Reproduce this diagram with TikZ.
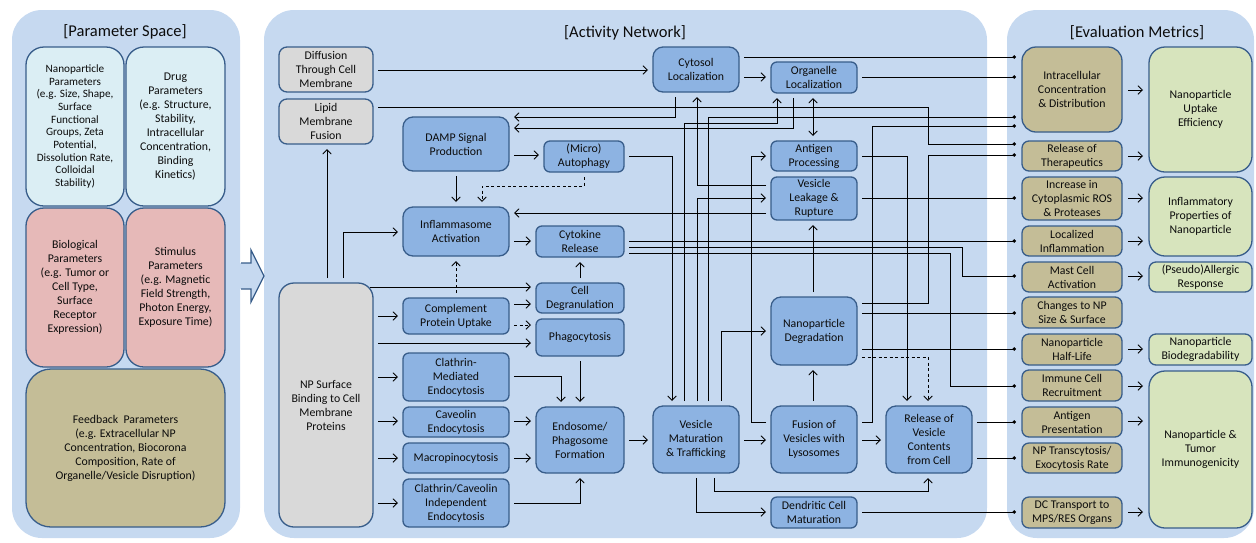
\documentclass[tikz,border=0pt]{standalone}
\usepackage{fontspec}
\setmainfont{Carlito}
\usetikzlibrary{arrows.meta,calc}
\definecolor{panel}{RGB}{198,217,240}
\definecolor{mid}{RGB}{141,179,226}
\definecolor{bord}{RGB}{56,93,138}
\definecolor{grayb}{RGB}{217,217,217}
\definecolor{cyanb}{RGB}{219,238,244}
\definecolor{pinkb}{RGB}{230,185,184}
\definecolor{tanb}{RGB}{196,189,151}
\definecolor{greenb}{RGB}{215,228,189}
\definecolor{txt}{RGB}{12,12,12}
\newcommand\bx[7]{\node[#1,minimum width={(#5)-(#3)},minimum height={(#6)-(#4)}] (#2) at ({((#3)+(#5))/2},{((#4)+(#6))/2}) {#7};}
\begin{document}
\begin{tikzpicture}[x=1pt,y=-1pt,
  base/.style={draw=bord,line width=1.3pt,align=center,inner sep=1pt,text=txt,font=\fontsize{11.8}{14}\selectfont},
  mb/.style={base,fill=mid,rounded corners=6pt,outer sep=5pt},
  mbig/.style={mb,rounded corners=10pt},
  gb/.style={base,fill=grayb,rounded corners=8pt,outer sep=5pt},
  gbig/.style={gb,rounded corners=15pt},
  tb/.style={base,fill=tanb,rounded corners=7pt,outer sep=6pt},
  tbig/.style={tb,rounded corners=14pt},
  grs/.style={base,fill=greenb,rounded corners=7pt,outer sep=6pt},
  grn/.style={grs,rounded corners=16pt},
  lb/.style={base,rounded corners=18pt},
  title/.style={font=\fontsize{16.5}{18}\selectfont,text=txt},
  ln/.style={draw=black,line width=0.85pt},
  ar/.style={ln,-{Straight Barb[length=4.5pt,width=8.5pt]}},
  bi/.style={ln,{Straight Barb[length=4.5pt,width=8.5pt]}-{Straight Barb[length=4.5pt,width=8.5pt]}},
  dar/.style={ar,dash pattern=on 3pt off 2.5pt},
  dt/.style={ln,-{Circle[length=3.5pt]}}]
\useasboundingbox (0,0) rectangle (1256,542);
% panels
\fill[panel,rounded corners=30pt] (12,10) rectangle (240,538);
\fill[panel,rounded corners=30pt] (264,10) rectangle (987,538);
\fill[panel,rounded corners=30pt] (1007,10) rectangle (1254,538);
\node[title] (t1) at (125,32) {[Parameter Space]};
\node[title] (t2) at (625,33) {[Activity Network]};
\node[title] (t3) at (1137,33) {[Evaluation Metrics]};
% block arrow
\fill[panel] (240,263) -- (251,263) -- (251,250) -- (264,276) -- (251,302) -- (251,289) -- (240,289) -- cycle;
\draw[bord,line width=1.2pt,line join=miter] (241,263) -- (251,263) -- (251,250) -- (264,276) -- (251,302) -- (251,289) -- (241,289);
% left boxes
\bx{lb,fill=cyanb,font=\fontsize{11.2}{12.7}\selectfont}{npp}{26}{47}{124}{206}{Nanoparticle\\Parameters\\(e.g. Size, Shape,\\Surface\\Functional\\Groups, Zeta\\Potential,\\Dissolution Rate,\\Colloidal\\Stability)}
\bx{lb,fill=cyanb}{drug}{126}{47}{225}{206}{Drug\\Parameters\\(e.g. Structure,\\Stability,\\Intracellular\\Concentration,\\Binding\\Kinetics)}
\bx{lb,fill=pinkb}{bio}{26}{208}{124}{367}{Biological\\Parameters\\(e.g. Tumor or\\Cell Type,\\Surface\\Receptor\\Expression)}
\bx{lb,fill=pinkb}{stim}{126}{208}{225}{367}{Stimulus\\Parameters\\(e.g. Magnetic\\Field Strength,\\Photon Energy,\\Exposure Time)}
\bx{lb,fill=tanb,rounded corners=25pt}{fb}{26}{369}{225}{527}{Feedback~ Parameters\\(e.g. Extracellular NP\\Concentration, Biocorona\\Composition, Rate of\\Organelle/Vesicle Disruption)}
% middle boxes
\bx{gb}{diff}{279}{47}{373}{92}{Diffusion\\Through Cell\\Membrane}
\bx{gb}{lipid}{279}{99}{373}{144}{Lipid\\Membrane\\Fusion}
\bx{gbig}{nps}{279}{283}{373}{527}{NP Surface\\Binding to Cell\\Membrane\\Proteins}
\bx{mbig}{damp}{403}{117}{509}{171}{DAMP Signal\\Production}
\bx{mb}{auto}{544}{141}{624}{172}{(Micro)\\Autophagy}
\bx{mbig}{cyt}{653}{47}{739}{92}{Cytosol\\Localization}
\bx{mb}{org}{771}{62}{857}{93}{Organelle\\Localization}
\bx{mb}{ap}{771}{141}{857}{171}{Antigen\\Processing}
\bx{mb}{vlr}{771}{177}{857}{220}{Vesicle\\Leakage \&\\Rupture}
\bx{mbig}{infl}{403}{207}{509}{256}{Inflammasome\\Activation}
\bx{mb}{cyto}{536}{226}{624}{257}{Cytokine\\Release}
\bx{mb}{cdeg}{536}{283}{624}{313}{Cell\\Degranulation}
\bx{mb}{comp}{403}{298}{509}{334}{Complement\\Protein Uptake}
\bx{mb}{phag}{536}{319}{624}{356}{Phagocytosis}
\bx{mb}{clm}{403}{353}{509}{401}{Clathrin-\\Mediated\\Endocytosis}
\bx{mb}{cav}{403}{407}{509}{437}{Caveolin\\Endocytosis}
\bx{mb}{macro}{403}{443}{509}{473}{Macropinocytosis}
\bx{mb}{cci}{403}{479}{509}{527}{Clathrin/Caveolin\\Independent\\Endocytosis}
\bx{mbig}{endo}{536}{407}{624}{473}{Endosome/\\Phagosome\\Formation}
\bx{mbig}{vmt}{653}{406}{739}{473}{Vesicle\\Maturation\\\& Trafficking}
\bx{mbig}{fus}{771}{406}{857}{473}{Fusion of\\Vesicles with\\Lysosomes}
\bx{mbig}{rel}{886}{406}{972}{473}{Release of\\Vesicle\\Contents\\from Cell}
\bx{mb}{dcm}{771}{497}{857}{528}{Dendritic Cell\\Maturation}
\bx{mbig}{npd}{771}{297}{857}{365}{Nanoparticle\\Degradation}
% right boxes
\bx{tbig}{icd}{1022}{47}{1122}{132}{Intracellular\\Concentration\\\& Distribution}
\bx{tb}{rot}{1022}{141}{1122}{171}{Release of\\Therapeutics}
\bx{tb}{ros}{1022}{177}{1122}{220}{Increase in\\Cytoplasmic ROS\\\& Proteases}
\bx{tb}{li}{1022}{226}{1122}{256}{Localized\\Inflammation}
\bx{tb}{mca}{1022}{262}{1122}{292}{Mast Cell\\Activation}
\bx{tb}{cnp}{1022}{297}{1122}{328}{Changes to NP\\Size \& Surface}
\bx{tb}{hl}{1022}{334}{1122}{365}{Nanoparticle\\Half-Life}
\bx{tb}{icr}{1022}{370}{1122}{401}{Immune Cell\\Recruitment}
\bx{tb}{apr}{1022}{407}{1122}{437}{Antigen\\Presentation}
\bx{tb}{tx}{1022}{443}{1122}{473}{NP Transcytosis/\\Exocytosis Rate}
\bx{tb}{dct}{1022}{497}{1122}{528}{DC Transport to\\MPS/RES Organs}
\bx{grn}{g1}{1149}{47}{1252}{172}{Nanoparticle\\Uptake\\Efficiency}
\bx{grn}{g2}{1149}{177}{1252}{256}{Inflammatory\\Properties of\\Nanoparticle}
\bx{grs}{g3}{1149}{262}{1252}{292}{(Pseudo)Allergic\\Response}
\bx{grs}{g4}{1149}{334}{1252}{365}{Nanoparticle\\Biodegradability}
\bx{grn}{g5}{1149}{371}{1252}{528}{Nanoparticle \&\\Tumor\\Immunogenicity}
% connectors: activity network
\draw[ar] (diff.east |- 0,70) -- (cyt.west |- 0,70);
\draw[dt] (lipid.east |- 0,107) -- (928,107) -- (928,144) -- (rot.west |- 0,144);
\draw[ar] (cyt.south -| 675,0) -- (675,117) -- (damp.east |- 0,117);
\draw[ar] (org.south -| 793,0) -- (793,128) -- (damp.east |- 0,128);
\draw[ar] (cyt.east |- 0,77) -- (org.west |- 0,77);
\draw[dt] (cyt.east |- 0,57) -- (icd.west |- 0,57);
\draw[dt] (org.east |- 0,77) -- (icd.west |- 0,77);
\draw[bi] (org.south -| 813,0) -- (ap.north -| 813,0);
\draw[ar] (damp.east |- 0,155) -- (auto.west |- 0,155);
\draw[ar] (damp.south -| 456,0) -- (infl.north -| 456,0);
\draw[dar] (auto.south -| 584,0) -- (584,186) -- (482,186) -- (infl.north -| 482,0);
\draw[ar] (auto.east |- 0,156) -- (672,156) -- (vmt.north -| 672,0);
\draw[ar] (vmt.north -| 684,0) -- (684,123) -- (777,123) -- (org.south -| 777,0);
\draw[ar] (vlr.west |- 0,185) -- (697,185) -- (cyt.south -| 697,0);
\draw[ar] (vmt.north -| 697,0) -- (697,198) -- (vlr.west |- 0,198);
\draw[dt] (vmt.north -| 708,0) -- (708,117) -- (icd.west |- 0,117);
\draw[ar] (vmt.north -| 721,0) -- (721,331) -- (npd.west |- 0,331);
\draw[ar] (fus.west |- 0,422) -- (751,422) -- (751,156) -- (ap.west |- 0,156);
\draw[dt] (fus.east |- 0,422) -- (872,422) -- (872,126) -- (icd.west |- 0,126);
\draw[ar] (ap.east |- 0,156) -- (907,156) -- (rel.north -| 907,0);
\draw[dt] (npd.east |- 0,303) -- (928,303) -- (928,155) -- (rot.west |- 0,155);
\draw[dt] (vlr.east |- 0,198) -- (ros.west |- 0,198);
\draw[ar] (vlr.west |- 0,213) -- (infl.east |- 0,213);
\draw[dt] (cyto.east |- 0,241) -- (li.west |- 0,241);
\draw[dt] (cyto.east |- 0,247) -- (962,247) -- (962,276) -- (mca.west |- 0,276);
\draw[dt] (cyto.east |- 0,253) -- (950,253) -- (950,386) -- (icr.west |- 0,386);
\draw[dt] (npd.east |- 0,313) -- (cnp.west |- 0,313);
\draw[dt] (npd.east |- 0,349) -- (hl.west |- 0,349);
\draw[dar] (npd.east |- 0,357) -- (928,357) -- (rel.north -| 928,0);
\draw[ar] (npd.north -| 813,0) -- (vlr.south -| 813,0);
\draw[ar] (fus.north -| 813,0) -- (npd.south -| 813,0);
\draw[ar] (vmt.east |- 0,440) -- (fus.west |- 0,440);
\draw[ar] (fus.east |- 0,440) -- (rel.west |- 0,440);
\draw[ar] (endo.east |- 0,440) -- (vmt.west |- 0,440);
\draw[dt] (rel.east |- 0,422) -- (apr.west |- 0,422);
\draw[dt] (rel.east |- 0,458) -- (tx.west |- 0,458);
\draw[ar] (vmt.south -| 714,0) -- (714,491) -- (928,491) -- (rel.south -| 928,0);
\draw[ar] (vmt.south -| 696,0) -- (696,512) -- (dcm.west |- 0,512);
\draw[dt] (dcm.east |- 0,512) -- (dct.west |- 0,512);
\draw[ar] (nps.north -| 327,0) -- (lipid.south -| 327,0);
\draw[ar] (nps.north -| 343,0) -- (343,232) -- (infl.west |- 0,232);
\draw[ar] ($(nps.east |- 0,287)+(-8,0)$) -- (cdeg.west |- 0,287);
\draw[ar] (nps.east |- 0,316) -- (comp.west |- 0,316);
\draw[ar] (nps.east |- 0,343) -- (phag.west |- 0,343);
\draw[ar] (nps.east |- 0,377) -- (clm.west |- 0,377);
\draw[ar] (nps.east |- 0,421) -- (cav.west |- 0,421);
\draw[ar] (nps.east |- 0,458) -- (macro.west |- 0,458);
\draw[ar] (nps.east |- 0,503) -- (cci.west |- 0,503);
\draw[ar] (comp.east |- 0,304) -- (cdeg.west |- 0,304);
\draw[dar] (comp.east |- 0,325) -- (phag.west |- 0,325);
\draw[dar] (comp.north -| 456,0) -- (infl.south -| 456,0);
\draw[ar] (cdeg.north -| 580,0) -- (cyto.south -| 580,0);
\draw[ar] (infl.east |- 0,241) -- (cyto.west |- 0,241);
\draw[ar] (phag.south -| 580,0) -- (endo.north -| 580,0);
\draw[ar] (clm.east |- 0,376) -- (561,376) -- (endo.north -| 561,0);
\draw[ar] (cav.east |- 0,421) -- (endo.west |- 0,421);
\draw[ar] (macro.east |- 0,458) -- (endo.west |- 0,458);
\draw[ar] (cci.east |- 0,503) -- (580,503) -- (endo.south -| 580,0);
% evaluation arrows
\draw[ar] (icd.east |- 0,90) -- (g1.west |- 0,90);
\draw[ar] (rot.east |- 0,156) -- (g1.west |- 0,156);
\draw[ar] (ros.east |- 0,198) -- (g2.west |- 0,198);
\draw[ar] (li.east |- 0,241) -- (g2.west |- 0,241);
\draw[ar] (mca.east |- 0,276) -- (g3.west |- 0,276);
\draw[ar] (hl.east |- 0,349) -- (g4.west |- 0,349);
\draw[ar] (icr.east |- 0,386) -- (g5.west |- 0,386);
\draw[ar] (apr.east |- 0,421) -- (g5.west |- 0,421);
\draw[ar] (dct.east |- 0,512) -- (g5.west |- 0,512);
\end{tikzpicture}
\end{document}
